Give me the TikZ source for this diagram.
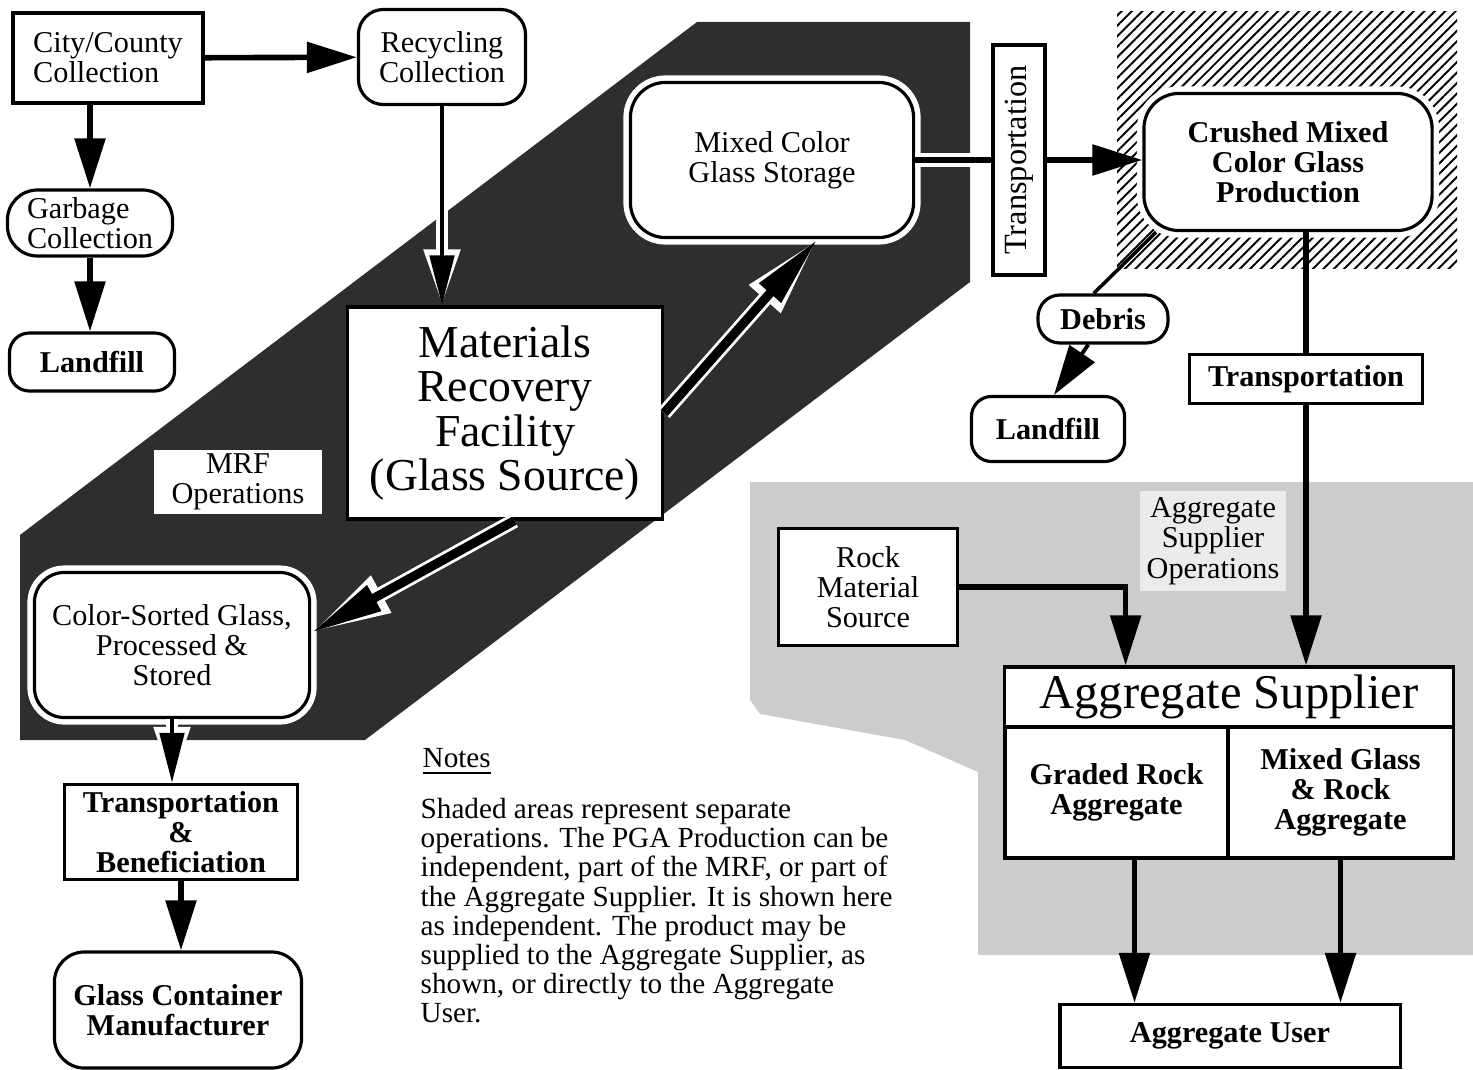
\documentclass[tikz,border=0pt]{standalone}
\usepackage{fontspec}
\setmainfont{Liberation Serif}
\usetikzlibrary{arrows.meta,patterns.meta}

\newcommand\lblfont{\fontsize{8.6pt}{8.6pt}\selectfont}
\newcommand\mrffont{\fontsize{13pt}{12.7pt}\selectfont}
\newcommand\supfont{\fontsize{13.8pt}{14pt}\selectfont}
\newcommand\transfont{\fontsize{9.2pt}{9.2pt}\selectfont}
\newcommand\notefont{\fontsize{8.3pt}{8.25pt}\selectfont}

\begin{document}
\begin{tikzpicture}[x=0.01cm, y=-0.01cm,
		sqbox/.style={draw, line width=0.9pt, fill=white, align=center, font=\lblfont, inner sep=1pt},
		rbox/.style={sqbox, rounded corners=#1}, rbox/.default=0.25cm,
		bf/.style={font=\lblfont\bfseries},
		halo/.style={preaction={draw=white, line width=4pt}},
		ln/.style={line width=1.6pt},
		arr/.style={ln, -{Triangle[length=0.5cm,width=0.3cm]}},
		edgearr/.style={draw=white, line width=3.2pt, -{Triangle[length=0.56cm,width=0.34cm,fill=white,color=white]}},
		thinarr/.style={draw=black, line width=1.4pt, -{Triangle[length=0.5cm,width=0.24cm,fill=black,color=black]}},
		edgebig/.style={draw=white, line width=4.2pt, -{Triangle[length=0.8cm,width=0.38cm,fill=white,color=white]}},
		bigarr/.style={draw=black, line width=2.6pt, -{Triangle[length=0.72cm,width=0.27cm,fill=black,color=black]}}]
		\useasboundingbox (0,0) rectangle (1473,1070);
		
		%shaded areas
		\fill[black!20] (750,482) -- (1473,482) -- (1473,955) -- (978,955) -- (978,772) -- (905,740) -- (760,714) -- (750,700) -- cycle;
		\fill[pattern={Lines[angle=45,distance=2.1pt,line width=0.55pt]}] (1117,12) rectangle (1457,268);
		\fill[black!82] (20,740) -- (20,535) -- (697,22) -- (970,22) -- (970,282) -- (365,740) -- cycle;
		
		%collection
		\node (city) at (108,58) [sqbox, align=left, minimum width=1.9cm, minimum height=0.9cm]{City/County\\Collection};
		\node (recyc) at (442,57) [rbox, minimum width=1.67cm, minimum height=0.95cm]{Recycling\\Collection};
		\node (garb) at (90,223) [rbox=0.3cm, align=left, minimum width=1.65cm, minimum height=0.66cm]{Garbage\\Collection};
		\node (landL) at (92,362) [rbox=0.2cm, bf, minimum width=1.65cm, minimum height=0.58cm]{Landfill};
		
		%MRF
		\node (mrf) at (505,413) [sqbox, font=\mrffont, minimum width=3.15cm, minimum height=2.12cm]{Materials\\Recovery\\Facility\\(Glass Source)};
		\node (mrfops) at (238,482) [sqbox, draw=none, minimum width=1.67cm, minimum height=0.61cm]{MRF\\Operations};
		\node (sorted) at (172,645) [rbox=0.3cm, halo, minimum width=2.75cm, minimum height=1.45cm]{Color-Sorted Glass,\\Processed \&\\Stored};
		\node (mixed) at (772,160) [rbox=0.35cm, halo, minimum width=2.83cm, minimum height=1.55cm]{Mixed Color\\Glass Storage};
		
		%crushed glass
		\node (transV) at (1019,160) [sqbox, font=\transfont, minimum width=0.52cm, minimum height=2.3cm]{\rotatebox{90}{Transportation}};
		\node (crushed) at (1288,162) [rbox=0.35cm, halo, bf, minimum width=2.88cm, minimum height=1.37cm]{Crushed Mixed\\Color Glass\\Production};
		\node (debris) at (1103,319) [rbox=0.22cm, bf, minimum width=1.3cm, minimum height=0.48cm]{Debris};
		\node (landR) at (1048,429) [rbox=0.2cm, bf, minimum width=1.53cm, minimum height=0.65cm]{Landfill};
		\node (transR) at (1306,379) [sqbox, bf, minimum width=2.33cm, minimum height=0.49cm]{Transportation};
		
		%aggregate supplier
		\node (rock) at (868,587) [sqbox, minimum width=1.79cm, minimum height=1.17cm]{Rock\\Material\\Source};
		\node (asops) at (1213,541) [fill=black!8, align=center, font=\lblfont, inner sep=2pt]{Aggregate\\Supplier\\Operations};
		\node (aggtitle) at (1229,697) [sqbox, font=\supfont, minimum width=4.48cm, minimum height=0.6cm]{Aggregate Supplier};
		\node (graded) at (1116.5,792.5) [sqbox, bf, minimum width=2.23cm, minimum height=1.31cm]{Graded Rock\\Aggregate};
		\node (mixrock) at (1340.5,792.5) [sqbox, bf, minimum width=2.25cm, minimum height=1.31cm]{Mixed Glass\\\& Rock\\Aggregate};
		\node (aguser) at (1230,1036) [sqbox, bf, minimum width=3.4cm, minimum height=0.63cm]{Aggregate User};
		
		%glass container
		\node (transB) at (181,832) [sqbox, bf, minimum width=2.33cm, minimum height=0.95cm]{Transportation\\\&\\Beneficiation};
		\node (gcm) at (178,1010) [rbox=0.3cm, bf, minimum width=2.47cm, minimum height=1.16cm]{Glass Container\\Manufacturer};
		
		%notes
		\node (noteshead) at (422,762) [anchor=west, font=\notefont, inner sep=0pt]{\underline{Notes}};
		\node (notes) at (420,798) [anchor=north west, align=left, font=\notefont, inner sep=0pt]{Shaded areas represent separate\\operations.  The PGA Production can be\\independent, part of the MRF, or part of\\the Aggregate Supplier.  It is shown here\\as independent.  The product may be\\supplied to the Aggregate Supplier, as\\shown, or directly to the Aggregate\\User.};
		
		%flows
		\draw[arr] (city) -- (recyc);
		\draw[arr] (garb.north |- city.south) -- (garb.north);
		\draw[arr] (garb.south) -- (garb.south |- landL.north);
		%white edged flows in the MRF area
		\draw[edgearr] (recyc.south) -- (recyc.south |- mrf.north);
		\draw[edgearr] (sorted.south) -- (sorted.south |- transB.north);
		\draw[edgebig] (mrf.east) -- (mixed.-60);
		\draw[edgebig] (mrf.-85) -- (sorted.5);
		\draw[white, line width=4pt] (mixed.east) -- (transV.west);
		\draw[thinarr] (recyc.south) -- (recyc.south |- mrf.north);
		\draw[thinarr] (sorted.south) -- (sorted.south |- transB.north);
		\draw[bigarr] (mrf.east) -- (mixed.-60);
		\draw[bigarr] (mrf.-85) -- (sorted.5);
		\draw[ln] (mixed.east) -- (transV.west);
		\draw[arr] (transV.east) -- (transV.east -| crushed.west);
		\draw[line width=1pt] (crushed.-152) -- (debris.110);
		\draw[arr, line width=1.1pt] (debris.-120) -- (landR.80);
		\draw[ln] (transR.north |- crushed.south) -- (transR.north);
		\draw[arr] (transR.south) -- (transR.south |- aggtitle.north);
		\draw[arr] (rock.east) -| (aggtitle.163);
		\draw[arr] (graded.-75) -- (graded.-75 |- aguser.north);
		\draw[arr] (mixrock.south) -- (mixrock.south |- aguser.north);
		\draw[arr] (transB.south) -- (transB.south |- gcm.north);
\end{tikzpicture}
\end{document}
